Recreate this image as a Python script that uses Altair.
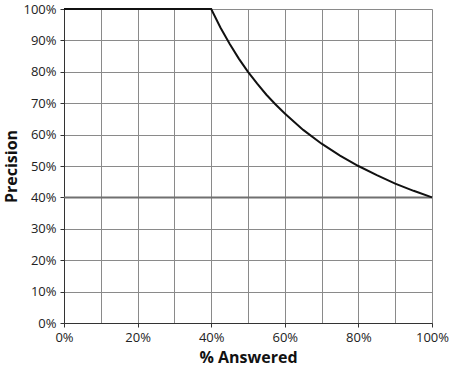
import altair as alt
import pandas as pd

answered = [0.0, 0.40, 0.425, 0.45, 0.475, 0.50, 0.525, 0.55, 0.575, 0.60, 0.65, 0.70, 0.75, 0.80, 0.85, 0.90, 0.95, 1.00]
precision = [1.0, 1.0, 0.941, 0.889, 0.842, 0.80, 0.762, 0.727, 0.696, 0.667, 0.615, 0.571, 0.533, 0.50, 0.471, 0.444, 0.421, 0.40]
base_x = [0.0, 1.0]
base_y = [0.40, 0.40]

curve = pd.DataFrame({"x": answered, "y": precision})
base = pd.DataFrame({"x": base_x, "y": base_y})

FONT = "Open Sans"
xgrid = [i / 10 for i in range(11)]
ygrid = [i / 10 for i in range(11)]

xscale = alt.Scale(domain=[0, 1], nice=False)
yscale = alt.Scale(domain=[0, 1], nice=False)

xaxis = alt.Axis(
    values=xgrid, format=".0%", title="% Answered",
    labelExpr="round(datum.value*10) % 2 == 0 ? datum.label : ''",
    tickOpacity={"condition": {"test": "round(datum.value*10) % 2 == 1", "value": 0}, "value": 1},
    grid=True, gridColor="#8a8a8a", gridWidth=1, gridOpacity=1,
    domainColor="#333", tickColor="#333", tickSize=4, labelFlush=False,
    labelFont=FONT, labelFontSize=13, labelColor="#222", labelPadding=4,
    titleFont=FONT, titleFontSize=16, titleFontWeight="bold", titleColor="#111", titlePadding=5,
)
yaxis = alt.Axis(
    values=ygrid, format=".0%", title="Precision", labelFlush=False,
    grid=True, gridColor="#8a8a8a", gridWidth=1, gridOpacity=1,
    domainColor="#333", tickColor="#333", tickSize=4,
    labelFont=FONT, labelFontSize=13, labelColor="#222", labelPadding=4,
    titleFont=FONT, titleFontSize=16, titleFontWeight="bold", titleColor="#111", titlePadding=3,
)

baseline = alt.Chart(base).mark_line(color="#707070", strokeWidth=2).encode(
    x=alt.X("x:Q", scale=xscale, axis=xaxis),
    y=alt.Y("y:Q", scale=yscale, axis=yaxis),
)
line = alt.Chart(curve).mark_line(color="#111", strokeWidth=2).encode(
    x=alt.X("x:Q", scale=xscale, axis=xaxis),
    y=alt.Y("y:Q", scale=yscale, axis=yaxis),
)

chart = alt.layer(baseline, line).properties(
    width=368, height=314,
    autosize=alt.AutoSizeParams(type="none"),
    padding={"left": 64, "top": 9, "right": 18, "bottom": 50},
).configure_view(stroke=None).configure(background="white")

chart.save("out.html", embed_options={"renderer": "svg", "actions": False})
